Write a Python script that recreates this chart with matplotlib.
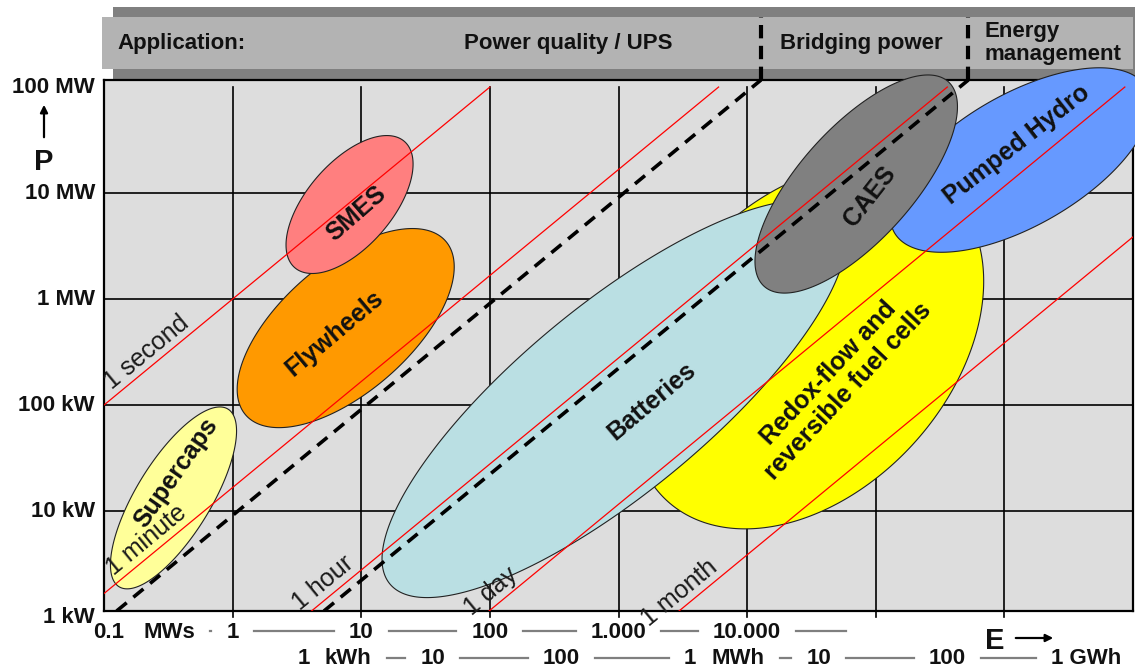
import numpy as np
import matplotlib
matplotlib.use("Agg")
import matplotlib.pyplot as plt
from matplotlib.patches import Rectangle, FancyArrowPatch
from matplotlib.lines import Line2D
from matplotlib.transforms import blended_transform_factory, IdentityTransform

plt.rcParams["font.family"] = ["Liberation Sans", "DejaVu Sans"]

W, H = 1135, 672

# storage technologies: centre (E in MWs, P in kW), semi-axes in decades, tilt (deg)
tech_names = ["Redox-flow", "Batteries", "Pumped Hydro", "CAES",
              "Supercaps", "Flywheels", "SMES"]
tech_E = [29500, 925, 1.33e6, 70500, 0.347, 7.57, 8.11]
tech_P = [360, 114, 20480, 12160, 13.3, 532, 7790]
tech_a = [1.625, 2.26, 1.13, 1.07, 0.81, 1.03, 0.65]
tech_b = [1.12, 0.73, 0.51, 0.44, 0.29, 0.50, 0.33]
tech_tilt = [48, 39.5, 30, 48, 58.5, 41, 49]
tech_colors = ["#FFFF00", "#BADFE3", "#6699FF", "#808080",
               "#FFFF99", "#FF9900", "#FF7F7F"]

label_texts = ["Redox-flow and\nreversible fuel cells", "Batteries", "Pumped Hydro",
               "CAES", "Supercaps", "Flywheels", "SMES"]
label_E = [51000, 1824, 1.25e6, 90600, 0.363, 6.14, 9.12]
label_P = [165, 109, 28400, 9370, 22.8, 478, 6340]
label_rot = [47, 40, 38, 52, 55, 40, 41]

# constant discharge time lines
time_s = [1, 60, 3600, 86400, 2592000]
time_labels = ["1 second", "1 minute", "1 hour", "1 day", "1 month"]
time_label_E = [0.25, 0.25, 5.93, 120, 3475]

# application boundaries (discharge time, s)
boundary_s = [110, 4500]

# axes ticks
grid_E = [1, 10, 100, 1e3, 1e4, 1e5, 1e6]
grid_P = [10, 100, 1e3, 1e4]
power_ticks = [1, 10, 100, 1e3, 1e4, 1e5]
power_labels = ["1 kW", "10 kW", "100 kW", "1 MW", "10 MW", "100 MW"]
mws_ticks = [0.1, 1, 10, 100, 1000, 10000]
mws_labels = ["0.1", "1", "10", "100", "1.000", "10.000"]
kwh_ticks = [3.6, 36, 360, 3600, 36000, 360000, 3600000]
kwh_labels = ["1", "10", "100", "1", "10", "100", "1 GWh"]

fig = plt.figure(figsize=(W / 100, H / 100), dpi=100)
ax = fig.add_axes([104 / W, 1 - 611 / H, (1133 - 104) / W, (611 - 80) / H])
ax.set_xscale("log")
ax.set_yscale("log")
ax.set_xlim(0.1, 1e7)
ax.set_ylim(1.14, 1.165e5)
ax.set_facecolor("#DDDDDD")
ax.tick_params(which="both", length=0, labelbottom=False, labelleft=False)
for s in ax.spines.values():
    s.set_linewidth(1.6)


def fig_rect(x0, y0, x1, y1, color):
    r = Rectangle((x0 / W, 1 - y1 / H), (x1 - x0) / W, (y1 - y0) / H,
                  transform=fig.transFigure, facecolor=color, edgecolor="none", zorder=-2)
    fig.add_artist(r)


# header band
fig_rect(113, 7, W, 80, "#808080")
fig_rect(102, 17, 1133, 69, "#B3B3B3")
hdr = dict(fontsize=16, fontweight="bold", color="#111111", va="center", zorder=-1)
fig.text(117 / W, 1 - 44 / H, "Application:", ha="left", **hdr)
fig.text(568 / W, 1 - 44 / H, "Power quality / UPS", ha="center", **hdr)
fig.text(861 / W, 1 - 44 / H, "Bridging power", ha="center", **hdr)
fig.text(985 / W, 1 - 43 / H, "Energy\nmanagement", ha="left", linespacing=1.15, **hdr)

# grid
for e in grid_E:
    ax.plot([e, e], [1, 1e5], color="black", lw=1.2, zorder=1, clip_on=False)
for p in grid_P:
    ax.plot([0.1, 1e7], [p, p], color="black", lw=1.2, zorder=1)

# technology ellipses
px_dec = ax.transData.transform((10, 1))[0] - ax.transData.transform((1, 1))[0]
tt = np.linspace(0, 2 * np.pi, 400)
inv = ax.transData.inverted()
for e, p, a, b, tilt, c in zip(tech_E, tech_P, tech_a, tech_b, tech_tilt, tech_colors):
    cx, cy = ax.transData.transform((e, p))
    th = np.radians(tilt)
    ua, ub = a * px_dec, b * px_dec
    xs = cx + ua * np.cos(tt) * np.cos(th) - ub * np.sin(tt) * np.sin(th)
    ys = cy + ua * np.cos(tt) * np.sin(th) + ub * np.sin(tt) * np.cos(th)
    d = inv.transform(np.column_stack([xs, ys]))
    ax.fill(d[:, 0], d[:, 1], facecolor=c, edgecolor="#222222", lw=0.8,
            zorder=3, clip_on=False)

# discharge time lines
p0 = ax.transData.transform((1, 1000))
p1 = ax.transData.transform((10, 10000))
ang = np.degrees(np.arctan2(p1[1] - p0[1], p1[0] - p0[0]))
nx, ny = -np.sin(np.radians(ang)), np.cos(np.radians(ang))
for t, lbl, le in zip(time_s, time_labels, time_label_E):
    e_lo = max(0.1, t * 1 / 1000)
    e_hi = min(1e7, t * 1e5 / 1000)
    ax.plot([e_lo, e_hi], [e_lo / t * 1000, e_hi / t * 1000], color="#FF0000",
            lw=0.9, zorder=4)
    ax.annotate(lbl, xy=(le, le / t * 1000), xytext=(nx * 2, ny * 2),
                textcoords="offset pixels", rotation=ang, rotation_mode="anchor",
                ha="center", va="bottom", fontsize=18, color="#1a1a1a", zorder=5)

# application boundaries
blend = blended_transform_factory(ax.transData, ax.transAxes)
ylo, yhi = ax.get_ylim()
for t in boundary_s:
    ax.plot([t * ylo / 1000, t * yhi / 1000], [ylo, yhi], color="black", lw=2.6,
            linestyle=(0, (3.6, 2.4)), zorder=4)
    ax.plot([t * yhi / 1000] * 2, [1.0, 1 + (80 - 17) / 531], transform=blend,
            color="black", lw=3.0, linestyle=(0, (3.2, 1.8)), clip_on=False, zorder=4)

# technology labels
for txt, e, p, r in zip(label_texts, label_E, label_P, label_rot):
    ax.text(e, p, txt, rotation=r, rotation_mode="anchor", ha="center", va="center",
            multialignment="center", fontsize=18, fontweight="bold", color="#111111",
            linespacing=1.1, zorder=5)

# power labels
ytr = blended_transform_factory(ax.transAxes, ax.transData)
for p, lbl in zip(power_ticks, power_labels):
    ax.annotate(lbl, xy=(0, p), xycoords=ytr, xytext=(-9, 0), textcoords="offset pixels",
                ha="right", va="center", fontsize=16, fontweight="bold",
                color="#111111", annotation_clip=False)

# energy rows
row1 = [(mws_labels[0], mws_ticks[0], 5, False), ("MWs", mws_ticks[0], 65, True)]
row1 += [(l, v, 0, False) for l, v in zip(mws_labels[1:], mws_ticks[1:])]
row2 = []
for l, v in zip(kwh_labels, kwh_ticks):
    row2.append((l, v, 10 if "GWh" in l else 0, False))
row2.insert(1, ("kWh", kwh_ticks[0], 44, True))
row2.insert(5, ("MWh", kwh_ticks[3], 48, True))


def energy_row(items, dy, tail=0):
    arts = []
    for txt, e, dx, unit in items:
        a = ax.annotate(txt, xy=(e, 0), xycoords=("data", "axes fraction"),
                        xytext=(dx, dy), textcoords="offset pixels", ha="center",
                        va="center", fontsize=16, fontweight="bold", color="#111111",
                        annotation_clip=False)
        arts.append((a, unit))
    fig.canvas.draw()
    rend = fig.canvas.get_renderer()
    boxes = [a.get_window_extent(rend) for a, _ in arts]
    yc = (boxes[0].y0 + boxes[0].y1) / 2 + 1
    segs = []
    for i in range(len(arts) - 1):
        if arts[i + 1][1]:
            continue
        segs.append((boxes[i].x1 + 15, boxes[i + 1].x0 - 15))
    if tail:
        segs.append((boxes[-1].x1 + 15, boxes[-1].x1 + 15 + tail))
    for x0, x1 in segs:
        fig.add_artist(Line2D([x0, x1], [yc, yc], transform=IdentityTransform(),
                              color="#7F7F7F", lw=1.6))


energy_row(row1, -21, tail=50)
energy_row(row2, -48)

# axis names with arrows
fig.text(44 / W, 1 - 162 / H, "P", ha="center", va="center", fontsize=21,
         fontweight="bold", color="#111111")
fig.add_artist(FancyArrowPatch(
    (44 / W, 1 - 140 / H), (44 / W, 1 - 102 / H), transform=fig.transFigure,
    arrowstyle="-|>", mutation_scale=11, lw=1.6, color="black"))
fig.text(995 / W, 1 - 641 / H, "E", ha="center", va="center", fontsize=21,
         fontweight="bold", color="#111111")
fig.add_artist(FancyArrowPatch(
    (1013 / W, 1 - 638 / H), (1056 / W, 1 - 638 / H), transform=fig.transFigure,
    arrowstyle="-|>", mutation_scale=11, lw=1.6, color="black"))

fig.savefig("out.png", dpi=100)
